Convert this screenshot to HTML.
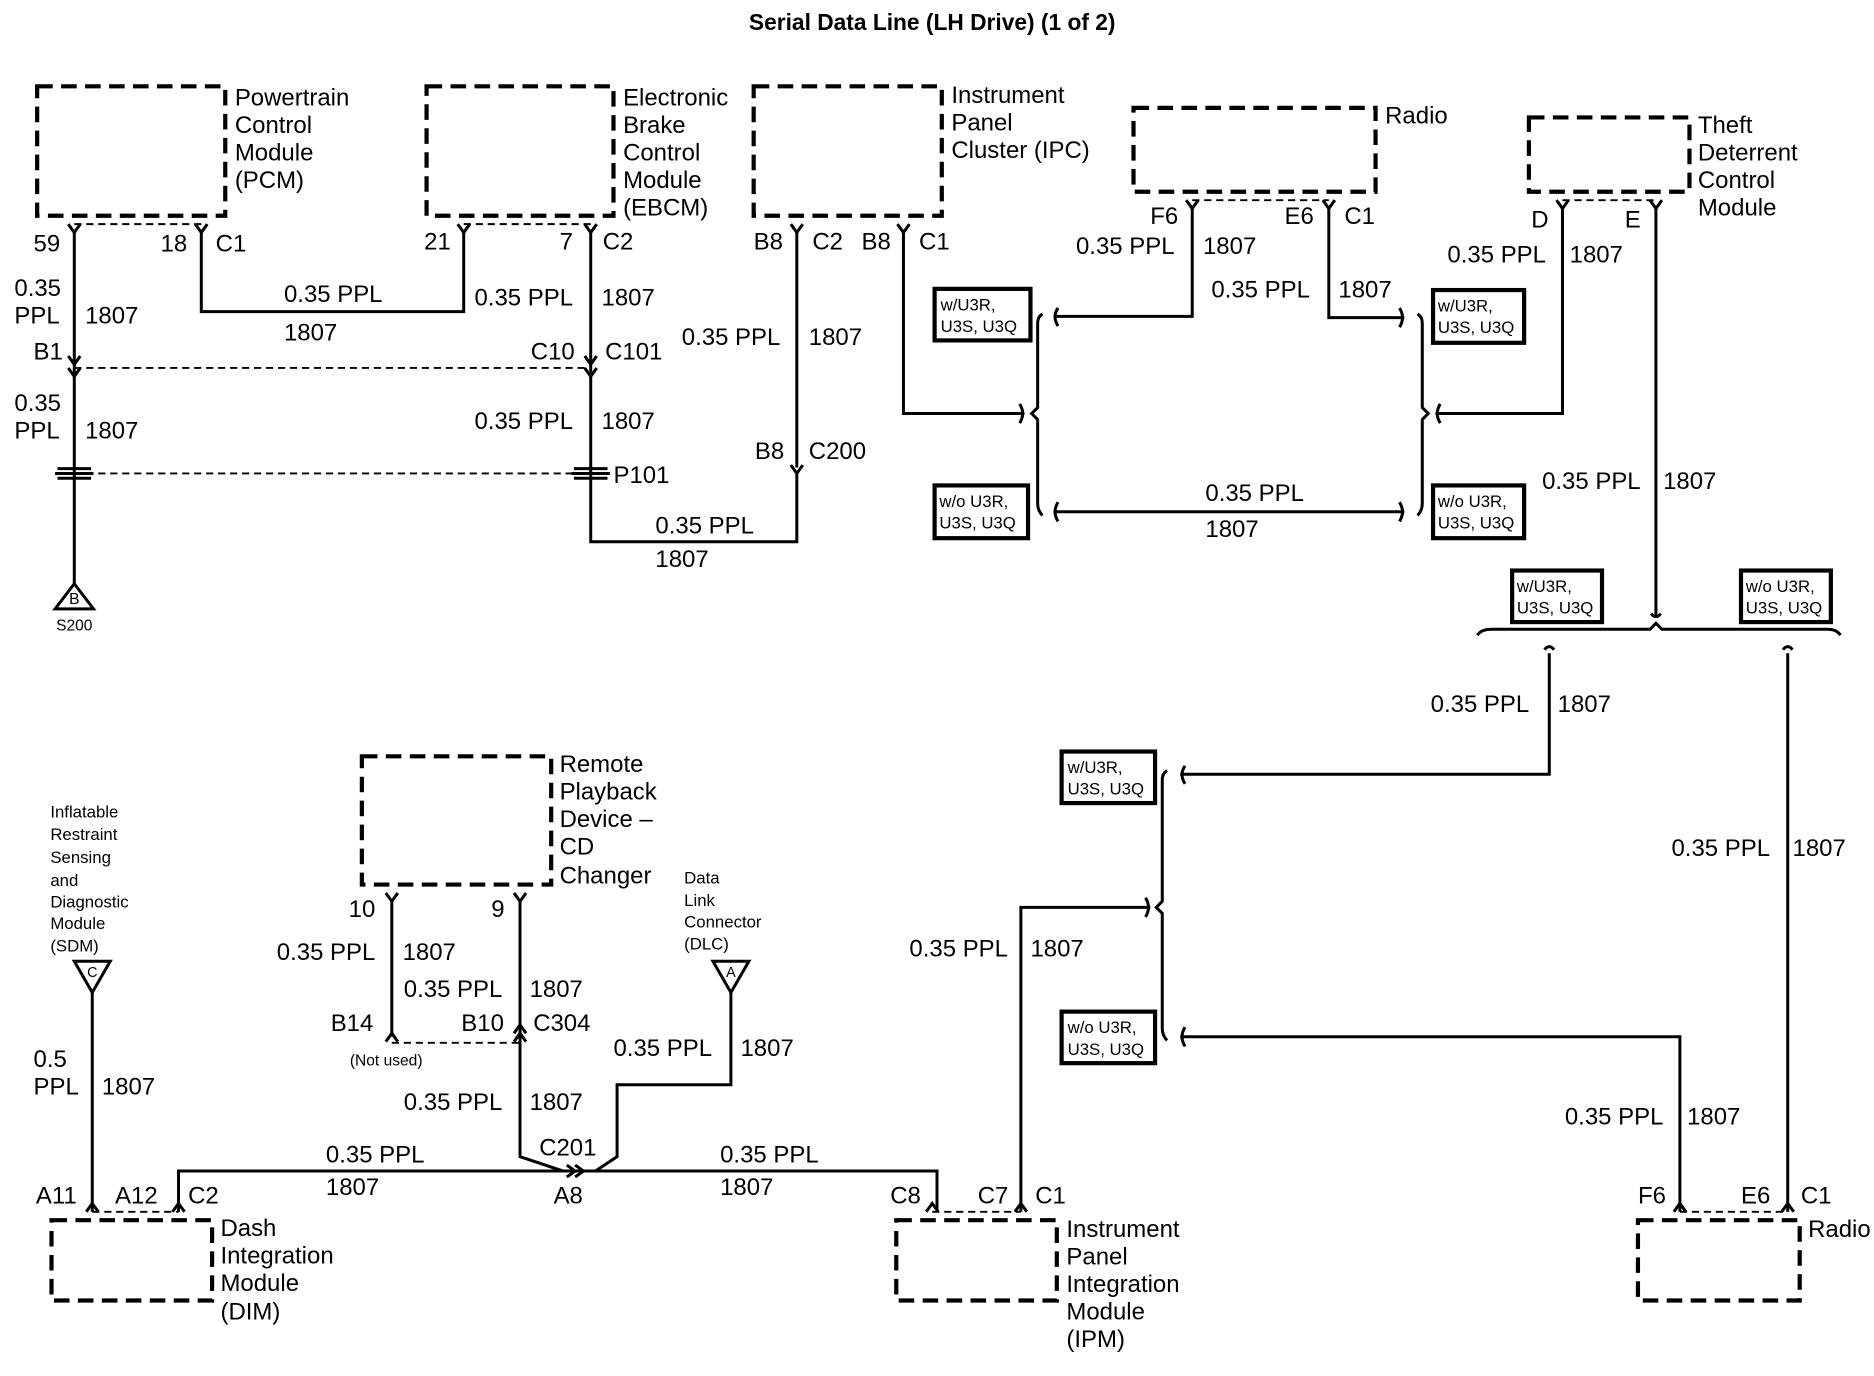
<!DOCTYPE html>
<html><head><meta charset="utf-8"><style>
html,body{margin:0;padding:0;background:#fff}
svg{display:block}
text{font-family:"Liberation Sans",Arial,sans-serif;fill:#000}
.t{font-size:20px}
.s{font-size:14px}
.w{fill:none;stroke:#000;stroke-width:2.5}
.d{fill:none;stroke:#000;stroke-width:1.6;stroke-dasharray:6,4}
.b{fill:none;stroke:#000;stroke-width:3.5;stroke-dasharray:13,7}
.o{fill:#fff;stroke:#000;stroke-width:3.5}
</style></head><body>
<svg width="1874" height="1376" viewBox="0 0 1564 1148" preserveAspectRatio="none" xmlns="http://www.w3.org/2000/svg">
<text x="778" y="25" text-anchor="middle" style="font-size:19px;font-weight:bold">Serial Data Line (LH Drive) (1 of 2)</text>

<!-- dashed boxes -->
<rect class="b" x="31" y="72" width="157" height="108"/>
<rect class="b" x="356" y="72" width="156" height="108"/>
<rect class="b" x="629" y="72" width="157" height="108"/>
<rect class="b" x="946" y="90" width="202" height="70"/>
<rect class="b" x="1276" y="98" width="134" height="62"/>
<rect class="b" x="302" y="631" width="158" height="107"/>
<rect class="b" x="43" y="1018" width="134" height="67"/>
<rect class="b" x="748" y="1018" width="134" height="67"/>
<rect class="b" x="1367" y="1018" width="135" height="67"/>

<!-- box labels -->
<g class="t">
<text x="196" y="88">Powertrain</text><text x="196" y="111">Control</text><text x="196" y="134">Module</text><text x="196" y="157">(PCM)</text>
<text x="520" y="88">Electronic</text><text x="520" y="111">Brake</text><text x="520" y="134">Control</text><text x="520" y="157">Module</text><text x="520" y="180">(EBCM)</text>
<text x="794" y="86">Instrument</text><text x="794" y="109">Panel</text><text x="794" y="132">Cluster (IPC)</text>
<text x="1156" y="103">Radio</text>
<text x="1417" y="111">Theft</text><text x="1417" y="134">Deterrent</text><text x="1417" y="157">Control</text><text x="1417" y="180">Module</text>
<text x="467" y="644">Remote</text><text x="467" y="667">Playback</text><text x="467" y="690">Device –</text><text x="467" y="713">CD</text><text x="467" y="737">Changer</text>
<text x="184" y="1031">Dash</text><text x="184" y="1054">Integration</text><text x="184" y="1077">Module</text><text x="184" y="1101">(DIM)</text>
<text x="890" y="1032">Instrument</text><text x="890" y="1055">Panel</text><text x="890" y="1078">Integration</text><text x="890" y="1101">Module</text><text x="890" y="1124">(IPM)</text>
<text x="1509" y="1032">Radio</text>
</g>

<!-- dashed connector lines -->
<path class="d" d="M62,187H168M387,187H493M62,307H493M62,395H493M995,167H1109M1304,167H1382M327,870H434M77,1011H149M778,1011H852M1402,1011H1492"/>

<!-- wires -->
<path class="w" d="M62,194V487M168,194V260H387V194M493,194V452H665V395M665,194V390M754,194V345H855M995,174V264H880M1109,174V265H1172M1304,174V345H1198M880,427H1172M1382,174V515
M1293,545V646H985M1492,545V1011M960,757H852V1011M985,865H1402V1011
M327,752V865M434,752V965L470,977M610,828V905H515V965L497,977M149,1011V977H782V1011M77,826V1011"/>
<!-- brackets -->
<path class="w" d="M870,262Q866,264 866,270V340L861,345L866,350V420Q866,426 870,430"/>
<path class="w" d="M1183,262Q1187,264 1187,270V340L1192,345L1187,350V420Q1187,426 1183,430"/>
<path class="w" d="M974,643Q970,645 970,651V752L965,757L970,762V858Q970,864 974,868"/>
<path class="w" d="M1233,530Q1236,525 1245,525H1377L1382,520L1387,525H1525Q1533,525 1536,530"/>
<!-- small curly ends -->
<path class="w" d="M883,257Q878,264 883,272M1168,257Q1173,265 1168,273M1202,337Q1197,345 1202,353M851,337Q856,345 851,353M883,419Q878,427 883,435M1168,419Q1173,427 1168,435M1378,512Q1382,517 1386,512M1289,542Q1293,537 1297,542M1488,542Q1492,537 1496,542M989,639Q984,646 989,654M956,749Q961,757 956,765M989,857Q984,865 989,873"/>

<!-- pin Y glyphs -->
<path class="w" d="M57,187L62,194L67,187M163,187L168,194L173,187M382,187L387,194L392,187M488,187L493,194L498,187M660,187L665,194L670,187M749,187L754,194L759,187M990,167L995,174L1000,167M1104,167L1109,174L1114,167M1299,167L1304,174L1309,167M1377,167L1382,174L1387,167M322,745L327,752L332,745M429,745L434,752L439,745"/>
<!-- connector arrows -->
<path class="w" d="M57,297L62,304L67,297M57,307L62,314L67,307M488,297L493,304L498,297M488,307L493,314L498,307M660,388L665,395L670,388M322,869L327,862L332,869M429,869L434,862L439,869M429,862L434,855L439,862
M473,972L480,977L473,982M480,972L487,977L480,982
M144,1011L149,1004L154,1011M72,1011L77,1004L82,1011M773,1011L778,1004L783,1011M847,1011L852,1004L857,1011M1397,1011L1402,1004L1407,1011M1487,1011L1492,1004L1497,1011"/>
<!-- P101 connector symbols -->
<g stroke="#000" stroke-width="2.5" fill="none">
<path d="M48,391H76M46,395H78M48,399H76"/>
<path d="M479,391H507M477,395H509M479,399H507"/>
</g>

<!-- triangles -->
<polygon points="62,487 46,508 78,508" fill="#fff" stroke="#000" stroke-width="2.5"/>
<text x="62" y="504" class="s" text-anchor="middle" style="font-size:13px">B</text>
<text x="62" y="526" text-anchor="middle" style="font-size:13px">S200</text>
<polygon points="62,802 92,802 77,828" fill="#fff" stroke="#000" stroke-width="2.5"/>
<text x="77" y="815" text-anchor="middle" style="font-size:12px">C</text>
<polygon points="595,802 625,802 610,828" fill="#fff" stroke="#000" stroke-width="2.5"/>
<text x="610" y="815" text-anchor="middle" style="font-size:12px">A</text>

<!-- option boxes -->
<g class="s">
<rect class="o" x="780" y="241" width="80" height="43"/><text x="785" y="259">w/U3R,</text><text x="785" y="277">U3S, U3Q</text>
<rect class="o" x="1196" y="242" width="76" height="44"/><text x="1200" y="260">w/U3R,</text><text x="1200" y="278">U3S, U3Q</text>
<rect class="o" x="780" y="405" width="78" height="44"/><text x="784" y="423">w/o U3R,</text><text x="784" y="441">U3S, U3Q</text>
<rect class="o" x="1196" y="405" width="76" height="44"/><text x="1200" y="423">w/o U3R,</text><text x="1200" y="441">U3S, U3Q</text>
<rect class="o" x="1262" y="476" width="75" height="43"/><text x="1266" y="494">w/U3R,</text><text x="1266" y="512">U3S, U3Q</text>
<rect class="o" x="1453" y="476" width="75" height="43"/><text x="1457" y="494">w/o U3R,</text><text x="1457" y="512">U3S, U3Q</text>
<rect class="o" x="886" y="627" width="78" height="43"/><text x="891" y="645">w/U3R,</text><text x="891" y="663">U3S, U3Q</text>
<rect class="o" x="886" y="844" width="78" height="43"/><text x="891" y="862">w/o U3R,</text><text x="891" y="880">U3S, U3Q</text>
</g>

<!-- wire / pin labels -->
<g class="t">
<text x="28" y="210">59</text><text x="134" y="210">18</text><text x="180" y="210">C1</text>
<text x="354" y="208">21</text><text x="467" y="208">7</text><text x="503" y="208">C2</text>
<text x="629" y="208">B8</text><text x="678" y="208">C2</text><text x="719" y="208">B8</text><text x="767" y="208">C1</text>
<text x="12" y="247">0.35</text><text x="12" y="270">PPL</text><text x="71" y="270">1807</text><text x="28" y="300">B1</text>
<text x="12" y="343">0.35</text><text x="12" y="366">PPL</text><text x="71" y="366">1807</text>
<text x="237" y="252">0.35 PPL</text><text x="237" y="284">1807</text>
<text x="396" y="255">0.35 PPL</text><text x="502" y="255">1807</text>
<text x="443" y="300">C10</text><text x="505" y="300">C101</text>
<text x="396" y="358">0.35 PPL</text><text x="502" y="358">1807</text><text x="512" y="403">P101</text>
<text x="569" y="288">0.35 PPL</text><text x="675" y="288">1807</text>
<text x="630" y="383">B8</text><text x="675" y="383">C200</text>
<text x="547" y="445">0.35 PPL</text><text x="547" y="473">1807</text>
<text x="960" y="187">F6</text><text x="1072" y="187">E6</text><text x="1122" y="187">C1</text>
<text x="898" y="212">0.35 PPL</text><text x="1004" y="212">1807</text>
<text x="1011" y="248">0.35 PPL</text><text x="1117" y="248">1807</text>
<text x="1278" y="190">D</text><text x="1356" y="190">E</text>
<text x="1208" y="219">0.35 PPL</text><text x="1310" y="219">1807</text>
<text x="1006" y="418">0.35 PPL</text><text x="1006" y="448">1807</text>
<text x="1287" y="408">0.35 PPL</text><text x="1388" y="408">1807</text>
<text x="1194" y="594">0.35 PPL</text><text x="1300" y="594">1807</text>
<text x="1395" y="714">0.35 PPL</text><text x="1496" y="714">1807</text>
<text x="759" y="798">0.35 PPL</text><text x="860" y="798">1807</text>
<text x="1306" y="938">0.35 PPL</text><text x="1408" y="938">1807</text>
<text x="1367" y="1004">F6</text><text x="1453" y="1004">E6</text><text x="1503" y="1004">C1</text>
<text x="743" y="1004">C8</text><text x="816" y="1004">C7</text><text x="864" y="1004">C1</text>
<text x="30" y="1004">A11</text><text x="96" y="1004">A12</text><text x="157" y="1004">C2</text>
<text x="272" y="970">0.35 PPL</text><text x="272" y="997">1807</text>
<text x="450" y="964">C201</text><text x="462" y="1004">A8</text>
<text x="601" y="970">0.35 PPL</text><text x="601" y="997">1807</text>
<text x="337" y="926">0.35 PPL</text><text x="442" y="926">1807</text>
<text x="512" y="881">0.35 PPL</text><text x="618" y="881">1807</text>
<text x="291" y="765">10</text><text x="410" y="765">9</text>
<text x="231" y="801">0.35 PPL</text><text x="336" y="801">1807</text>
<text x="337" y="832">0.35 PPL</text><text x="442" y="832">1807</text>
<text x="276" y="860">B14</text><text x="385" y="860">B10</text><text x="445" y="860">C304</text>
<text x="28" y="890">0.5</text><text x="28" y="913">PPL</text><text x="85" y="913">1807</text>
</g>
<text x="292" y="889" style="font-size:13px">(Not used)</text>
<g class="s">
<text x="42" y="682">Inflatable</text><text x="42" y="701">Restraint</text><text x="42" y="720">Sensing</text><text x="42" y="739">and</text><text x="42" y="757">Diagnostic</text><text x="42" y="775">Module</text><text x="42" y="794">(SDM)</text>
<text x="571" y="737">Data</text><text x="571" y="756">Link</text><text x="571" y="774">Connector</text><text x="571" y="792">(DLC)</text>
</g>
</svg>
</body></html>
